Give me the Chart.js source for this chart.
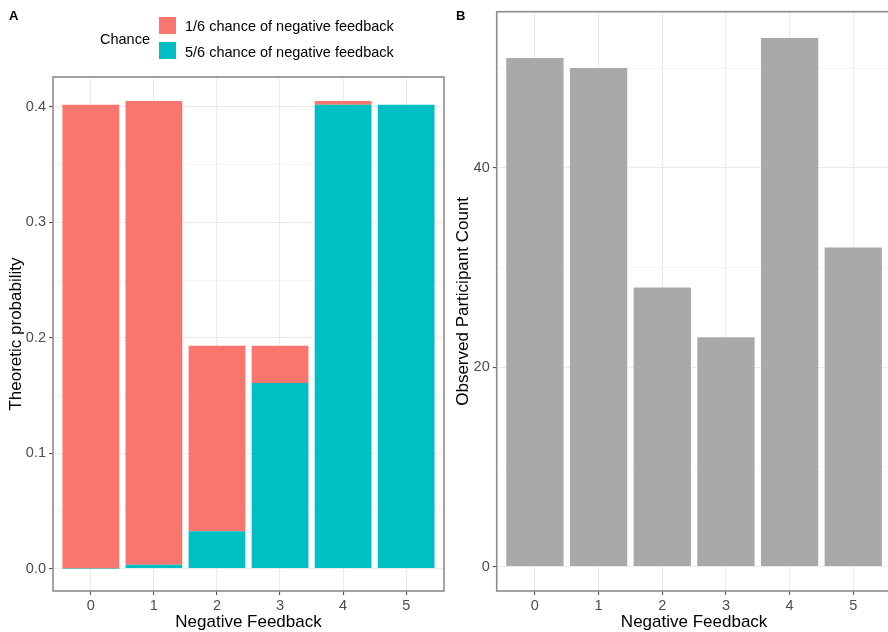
<!DOCTYPE html>
<html>
<head>
<meta charset="utf-8">
<script src="https://cdn.jsdelivr.net/npm/chart.js@4/dist/chart.umd.min.js"></script>
<style>
  html, body { margin: 0; padding: 0; width: 888px; height: 632px; overflow: hidden; background: #fff;
    font-family: "Liberation Sans", Arial, sans-serif; }
  canvas { position: absolute; top: 0; }
  .tag { position: absolute; font-weight: bold; font-size: 13px; line-height: 13px; color: #000; }
  .key { position: absolute; width: 17px; height: 17px; }
  .ltxt { position: absolute; font-size: 14.5px; line-height: 14.5px; color: #000; white-space: nowrap; }
</style>
</head>
<body>
<canvas id="chartA" width="446" height="632" style="left:0"></canvas>
<canvas id="chartB" width="460" height="632" style="left:446px"></canvas>
<div class="tag" style="left:9px;top:9px">A</div>
<div class="tag" style="left:456px;top:9px">B</div>
<div id="legend"></div>
<script>
// Number of negative feedback events (0-5)
const categories = ['0', '1', '2', '3', '4', '5'];
// Theoretic probability under each chance condition
const lowChance  = [0.4019, 0.4019, 0.1608, 0.0322, 0.0032, 0.0001];
const highChance = [0.0001, 0.0032, 0.0322, 0.1608, 0.4019, 0.4019];
// Observed participant counts
const observedCounts = [51, 50, 28, 23, 53, 32];

const legendTitle = 'Chance';
const seriesNames = ['1/6 chance of negative feedback', '5/6 chance of negative feedback'];
const seriesColors = ['#F8766D', '#00BFC4'];
const barGrey = '#A9A9A9';

const probTicks = [0, 0.1, 0.2, 0.3, 0.4];
const probTickLabels = ['0.0', '0.1', '0.2', '0.3', '0.4'];
const countTicks = [0, 20, 40];
const countTickLabels = ['0', '20', '40'];

const FAMILY = '"Liberation Sans", Arial, sans-serif';
Chart.defaults.font.family = FAMILY;

// Legend (HTML)
const legend = document.getElementById('legend');
legend.innerHTML =
  '<div class="ltxt" style="left:100px;top:31.7px">' + legendTitle + '</div>' +
  '<div class="key" style="left:159px;top:16.5px;background:' + seriesColors[0] + '"></div>' +
  '<div class="key" style="left:159px;top:42px;background:' + seriesColors[1] + '"></div>' +
  '<div class="ltxt" style="left:185px;top:19.4px">' + seriesNames[0] + '</div>' +
  '<div class="ltxt" style="left:185px;top:45px">' + seriesNames[1] + '</div>';

// Box around the plotting panel
const panelBorder = {
  id: 'panelBorder',
  afterDraw(chart) {
    const { ctx, chartArea: a } = chart;
    ctx.save();
    ctx.strokeStyle = '#8c8c8c';
    ctx.lineWidth = 1.6;
    ctx.strokeRect(a.left, a.top, a.right - a.left, a.bottom - a.top);
    ctx.restore();
  }
};

function near(a, b) { return Math.abs(a - b) < 1e-9; }

function yAxis(min, max, major, labels, titleText, titlePad, width) {
  const step = major[1] - major[0];
  const minor = [];
  for (let v = major[0] - step / 2; v <= max; v += step) if (v >= min) minor.push(v);
  const isMajor = v => major.some(m => near(m, v));
  return {
    type: 'linear', min, max,
    afterBuildTicks: s => { s.ticks = major.concat(minor).sort((a, b) => a - b).map(v => ({ value: v })); },
    afterFit: s => { s.width = width; },
    ticks: {
      autoSkip: false,
      padding: 3,
      color: '#4d4d4d',
      font: { size: 14.5, family: FAMILY },
      callback: v => { const i = major.findIndex(m => near(m, v)); return i >= 0 ? labels[i] : ''; }
    },
    grid: {
      color: '#ebebeb',
      lineWidth: c => (c.tick && isMajor(c.tick.value)) ? 1.1 : 0.55,
      tickColor: c => (c.tick && isMajor(c.tick.value)) ? '#555' : 'rgba(0,0,0,0)',
      tickLength: 4,
      tickWidth: 1.1
    },
    border: { display: false },
    title: { display: true, text: titleText, color: '#000', font: { size: 17, family: FAMILY },
             padding: { top: titlePad, bottom: 0 } }
  };
}

function xAxis() {
  return {
    type: 'linear', min: -0.6, max: categories.length - 0.4,
    offset: false,
    afterBuildTicks: s => { s.ticks = categories.map((c, i) => ({ value: i })); },
    afterFit: s => { s.height = 41; },
    ticks: {
      autoSkip: false, maxRotation: 0, padding: 2,
      color: '#4d4d4d',
      font: { size: 14.5, family: FAMILY },
      callback: v => categories[Math.round(v)]
    },
    grid: { offset: false, color: '#ebebeb', lineWidth: 1.1, tickColor: '#555', tickLength: 4, tickWidth: 1.1 },
    border: { display: false },
    title: { display: true, text: 'Negative Feedback', color: '#000',
             font: { size: 17, family: FAMILY, lineHeight: 1.1 },
             padding: { top: 0, bottom: 0 } }
  };
}

const common = {
  responsive: false,
  animation: false,
  devicePixelRatio: 1,
  plugins: { legend: { display: false }, tooltip: { enabled: false } }
};

const barStyle = { barPercentage: 0.9, categoryPercentage: 1.0, borderWidth: 0, grouped: false };

// Panel A: stacked theoretic probabilities (5/6 at the bottom, 1/6 on top)
new Chart(document.getElementById('chartA'), {
  type: 'bar',
  data: {
    datasets: [
      Object.assign({
        label: seriesNames[1],
        data: categories.map((c, i) => ({ x: i, y: [0, highChance[i]] })),
        backgroundColor: seriesColors[1]
      }, barStyle),
      Object.assign({
        label: seriesNames[0],
        data: categories.map((c, i) => ({ x: i, y: [highChance[i], highChance[i] + lowChance[i]] })),
        backgroundColor: seriesColors[0]
      }, barStyle)
    ]
  },
  options: Object.assign({
    layout: { padding: { left: 0, right: 2, top: 77, bottom: 0 } },
    scales: {
      x: xAxis(),
      y: yAxis(-0.0195, 0.426, probTicks, probTickLabels, 'Theoretic probability', 6.3, 53)
    }
  }, common),
  plugins: [panelBorder]
});

// Panel B: observed counts
new Chart(document.getElementById('chartB'), {
  type: 'bar',
  data: {
    datasets: [
      Object.assign({
        label: 'Observed Participant Count',
        data: categories.map((c, i) => ({ x: i, y: observedCounts[i] })),
        backgroundColor: barGrey
      }, barStyle)
    ]
  },
  options: Object.assign({
    layout: { padding: { left: 0, right: 14.5, top: 10, bottom: 0 } },
    scales: {
      x: xAxis(),
      y: yAxis(-2.45, 55.65, countTicks, countTickLabels, 'Observed Participant Count', 7.5, 50.7)
    }
  }, common),
  plugins: [panelBorder]
});
</script>
</body>
</html>
